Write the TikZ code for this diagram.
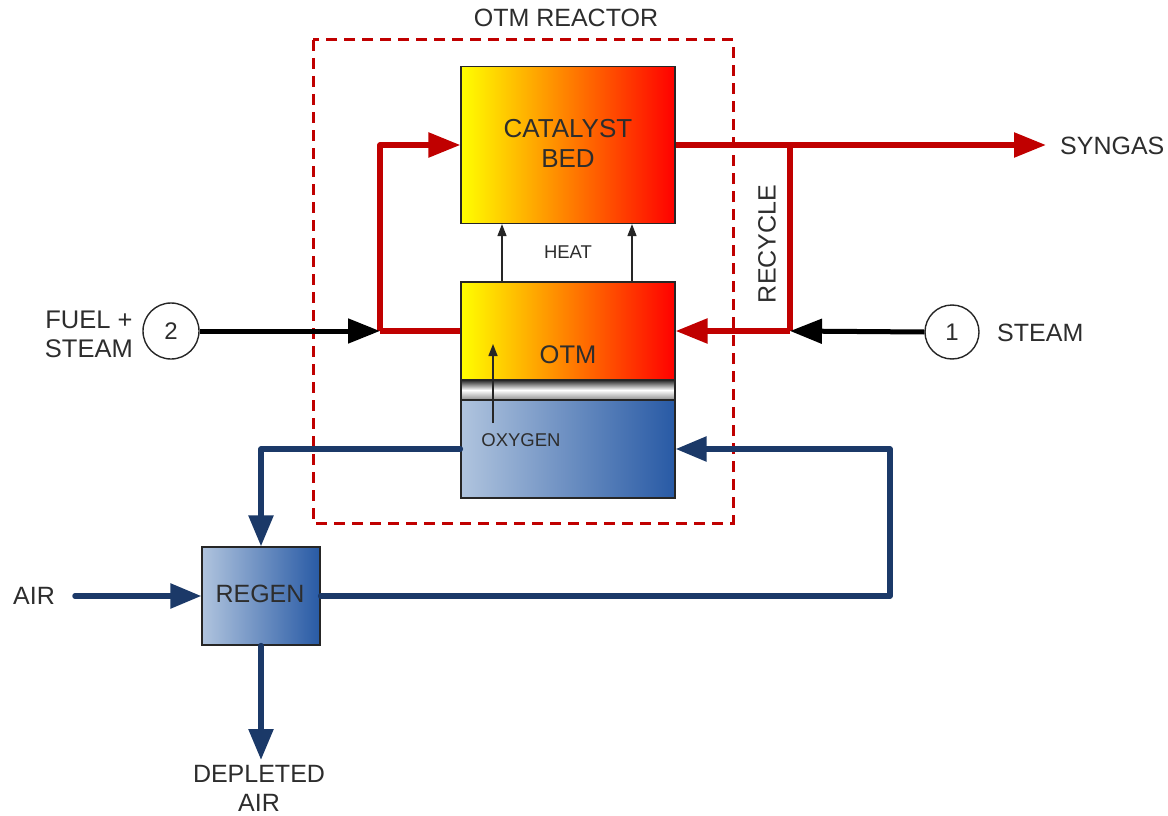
\documentclass[tikz,border=0pt]{standalone}
\usepackage{fontspec}
\setmainfont{Liberation Sans}
\usetikzlibrary{arrows.meta,positioning}
\definecolor{flowred}{RGB}{192,0,0}
\definecolor{flowblue}{RGB}{27,57,104}
\definecolor{blueL}{RGB}{176,196,222}
\definecolor{blueD}{RGB}{40,90,165}
\definecolor{txt}{RGB}{45,45,45}
\tikzset{
  lbl/.style={text=txt,font=\fontsize{25}{29}\selectfont,align=center,inner sep=0pt},
  unitbox/.style={draw=black!85,line width=1.2pt,inner sep=0pt,minimum width=214pt},
  hotbox/.style={unitbox,left color=yellow,right color=red,middle color=orange},
  coldbox/.style={unitbox,left color=blueL,right color=blueD},
  redflow/.style={draw=flowred,line width=5.5pt,line join=round},
  blueflow/.style={draw=flowblue,line width=5.5pt,line join=round,line cap=round},
  blackflow/.style={draw=black,line width=5pt},
  bigtip/.style={-{Triangle[length=32pt,width=24pt]}},
  bluetip/.style={-{Triangle[length=31pt,width=24pt]}},
  thinarrow/.style={draw=black!85,line width=1.4pt,-{Triangle[length=12pt,width=9pt]}},
  stream/.style={circle,draw=black!85,line width=1.4pt,minimum size=56pt,inner sep=0pt,text=txt,font=\fontsize{24}{28}\selectfont}
}
\begin{document}
\begin{tikzpicture}[x=1pt,y=-1pt]
\useasboundingbox (0,0) rectangle (1168,816);
\fill[white] (0,0) rectangle (1168,816);

% reactor envelope
\draw[flowred,line width=3pt,dash pattern=on 11pt off 7pt] (313,40) rectangle (733,523);
\node[lbl] (reactor) at (566,18) {OTM REACTOR};

% catalyst bed
\node[hotbox,minimum height=157pt] (cat) at (568,145) {};
\node[lbl,font=\fontsize{26}{30}\selectfont] (catlbl) at (568,143) {CATALYST\\BED};

% OTM stack: hot side, membrane, air side
\node[hotbox,minimum height=98pt] (otm) at (568,331) {};
\node[unitbox,minimum height=20pt,top color=black!85,bottom color=black!45,middle color=white] (mem) at (568,390) {};
\node[coldbox,minimum height=98pt] (air) at (568,449) {};
\node[lbl,font=\fontsize{25.5}{29}\selectfont] (otmlbl) at (568,355) {OTM};
\node[lbl,font=\fontsize{18.5}{22}\selectfont] (oxylbl) at (521,440) {OXYGEN};
\coordinate (oxyfrom) at (493,423);
\coordinate (oxyto) at (493,344);
\draw[thinarrow] (oxyfrom) -- (oxyto);

% heat transfer to catalyst bed
\node[lbl,font=\fontsize{18.5}{22}\selectfont] (heat) at (568,252) {HEAT};
\draw[thinarrow] (otm.north -| 502,0) -- (cat.south -| 502,0);
\draw[thinarrow] (otm.north -| 632,0) -- (cat.south -| 632,0);

% regenerator
\node[coldbox,minimum width=118pt,minimum height=98pt] (regen) at (261,596) {};
\node[lbl] (regenlbl) at (260,594) {REGEN};

% feed streams
\node[stream] (s2) at (171,331) {2};
\node[lbl,font=\fontsize{25.5}{29}\selectfont,anchor=east] (fuel) at (133,334) {FUEL +\\STEAM};
\node[stream,minimum size=54pt] (s1) at (952,332) {1};
\node[lbl,anchor=west] (steam) at (997,333) {STEAM};
\node[lbl,anchor=west] (syngas) at (1060,146) {SYNGAS};
\node[lbl,anchor=west] (airin) at (13,596) {AIR};
\node[lbl] (depleted) at (259,788) {DEPLETED\\AIR};
\node[lbl,rotate=90] (recycle) at (767,244) {RECYCLE};

% fuel side
\coordinate (split) at (380,331);
\coordinate (rj) at (790,331);
\coordinate (syngasend) at (1046,145);
\draw[redflow] (split) -- (otm.west);
\draw[redflow,bigtip] (split) |- (cat.west);
\draw[blackflow,bigtip] (s2.east) -- (split);
\draw[redflow,bigtip] (cat.east) -- (syngasend);
\draw[redflow] (cat.east -| rj) -- (rj);
\draw[redflow,bigtip] (rj) -- (otm.east);
\draw[blackflow,bigtip] (s1.west) -- (rj);

% air side
\coordinate (airstart) at (75,596);
\coordinate (bend) at (890,596);
\coordinate (depend) at (261,760);
\draw[blueflow,bluetip] (air.west) -| (regen.north);
\draw[blueflow,bluetip] (airstart) -- (regen.west);
\draw[blueflow,bluetip] (regen.east) -- (bend) |- (air.east);
\draw[blueflow,bluetip] (regen.south) -- (depend);
\end{tikzpicture}
\end{document}
